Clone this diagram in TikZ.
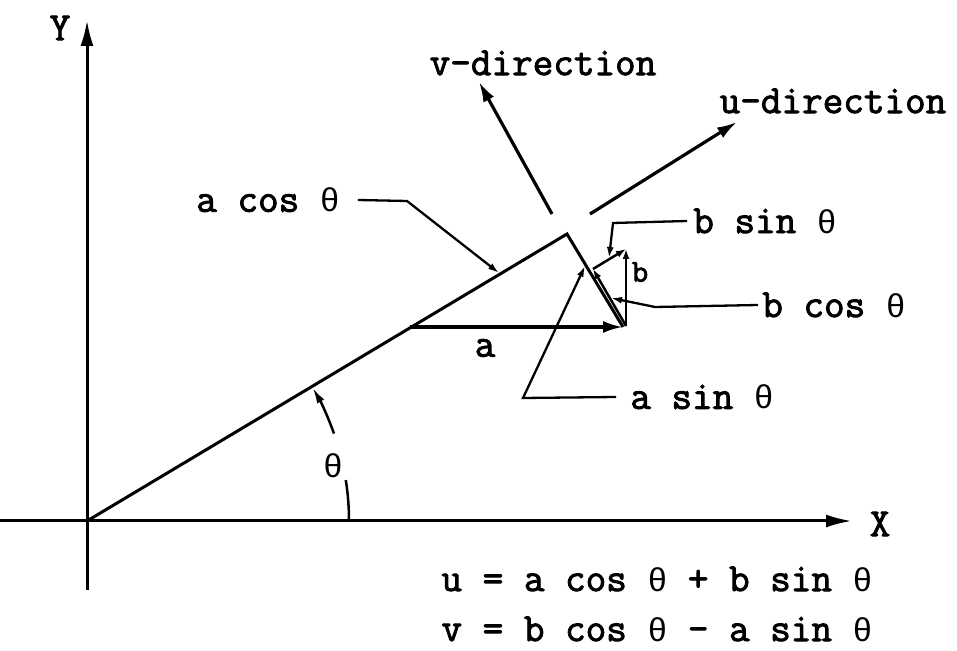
\documentclass[tikz,border=0pt]{standalone}
\usepackage{fontspec}
\newfontfamily\thf{Liberation Mono}
\newfontfamily\cour{Latin Modern Mono}[FakeBold=2.2]
\usetikzlibrary{arrows.meta}
\newcommand{\mytheta}{{\thf\fontsize{33}{36}\selectfont θ}}
\begin{document}
\begin{tikzpicture}[x=1pt,y=1pt,
  txt/.style={font=\cour\fontsize{40}{44}\selectfont, inner sep=0pt},
  thick line/.style={line width=3pt},
  leader/.style={line width=2.3pt, -{Latex[length=11pt,width=7pt]}},
  bigarrow/.style={line width=3pt, -{Latex[length=26pt,width=13pt]}},
  midarrow/.style={line width=3.2pt, -{Latex[length=20pt,width=12pt]}},
  smallarrow/.style={line width=2.5pt, -{Latex[length=10pt,width=7pt]}}]
\useasboundingbox (0,0) rectangle (957,650);
% coordinates
\coordinate (O) at (87,129);
\coordinate (Xs) at (0,129);
\coordinate (Xe) at (852,129);
\coordinate (Ys) at (87,60);
\coordinate (Ye) at (87,630);
\coordinate (A) at (567,416);
\coordinate (P) at (410,323);
\coordinate (Q) at (623,323);
\coordinate (Bb) at (626,324);
\coordinate (R) at (593,381);
\coordinate (B) at (626,401);
\coordinate (Vt) at (552,436);
\coordinate (Vh) at (479,568);
\coordinate (Ut) at (590,436);
\coordinate (Uh) at (737,528);
% axes
\draw[bigarrow] (Xs) -- (Xe);
\draw[bigarrow] (Ys) -- (Ye);
\node[txt] (xl) at (880,126) {X};
\node[txt] (yl) at (60,622) {Y};
% main line and triangle
\draw[thick line, line join=miter] (O) -- (A) -- (Q);
\draw[midarrow] (P) -- (Q);
\node[txt] (al) at (485,302) {a};
% b vector and components
\draw[smallarrow] (Bb) -- (B);
\draw[smallarrow] (Bb) -- (R);
\draw[smallarrow] (R) -- (B);
\node[txt, font=\cour\fontsize{32}{34}\selectfont] (bl) at (640,378) {b};
% direction arrows
\draw[midarrow] (Vt) -- (Vh);
\draw[midarrow] (Ut) -- (Uh);
\node[txt] (vd) at (543,587) {v-direction};
\node[txt] (ud) at (833,549) {u-direction};
% theta arc
\draw[line width=2.5pt] ([shift={(0:262)}]O) arc[start angle=0, end angle=9, radius=262];
\draw[line width=2.5pt, -{Latex[length=16pt,width=8pt]}] ([shift={(19.5:262)}]O) arc[start angle=19.5, end angle=30.6, radius=262];
\node[txt] (th) at (333,184) {\mytheta};
% leaders and labels
\node[txt] (acos) at (268,450) {a cos \mytheta};
\coordinate (ac1) at (407,449);
\coordinate (ac2) at (499,377);
\draw[leader] (acos.east) ++(18,0) -- (ac1) -- (ac2);
\node[txt] (asin) at (702,253) {a sin \mytheta};
\coordinate (as1) at (523,252);
\coordinate (as2) at (585,384);
\draw[leader] (asin.west) ++(-14,0) -- (as1) -- (as2);
\node[txt] (bsin) at (765,429) {b sin \mytheta};
\coordinate (bs1) at (613,427);
\coordinate (bs2) at (609,392);
\draw[leader] (bsin.west) ++(-6,0) -- (bs1) -- (bs2);
\node[txt] (bcos) at (834,345) {b cos \mytheta};
\coordinate (bc1) at (655,343);
\coordinate (bc2) at (611,352);
\draw[leader] (bcos.west) ++(-4,0) -- (bc1) -- (bc2);
% equations
\node[txt] (eq1) at (657,71) {u = a cos \mytheta{} + b sin \mytheta};
\node[txt] (eq2) at (657,21) {v = b cos \mytheta{} - a sin \mytheta};
\end{tikzpicture}
\end{document}
